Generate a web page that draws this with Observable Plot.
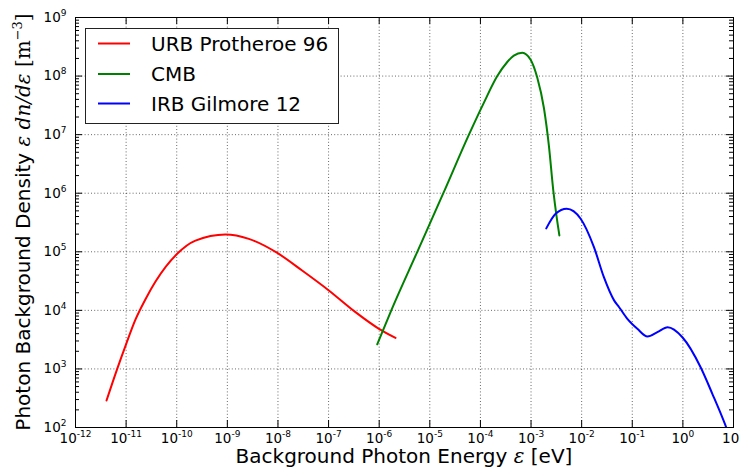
<!DOCTYPE html>
<html><head><meta charset="utf-8">
<script src="https://cdn.jsdelivr.net/npm/d3@7"></script>
<script src="https://cdn.jsdelivr.net/npm/@observablehq/plot@0.6"></script>
<style>body{margin:0;background:#fff;} #chart{width:740px;height:476px;}</style>
</head><body><div id="chart"></div>
<script>
// ---- data ----
const urbEnergy = [4.1e-12, 6.67e-12, 1.005e-11, 1.535e-11, 2.415e-11, 3.81e-11, 1.02e-10, 2.34e-10, 9.2e-10, 2.66e-9, 9.7e-9, 3.0e-8, 1.01e-7, 3.4e-7, 9.9e-7, 2.1e-6];
const urbDensity = [289, 1005, 2685, 7000, 15500, 31000, 92300, 155000, 197000, 166000, 95500, 47900, 21900, 9330, 4840, 3390];

const cmbEnergy = [9.16e-7, 1.734e-6, 5.66e-6, 1.85e-5, 5.93e-5, 1.148e-4, 2.153e-4, 3.39e-4, 4.57e-4, 6.71e-4, 9.82e-4, 1.33e-3, 1.80e-3, 2.26e-3, 2.75e-3, 3.21e-3, 3.63e-3];
const cmbDensity = [2630, 1.0e4, 1.0e5, 1.0e6, 1.0e7, 3.39e7, 1.0e8, 1.74e8, 2.24e8, 2.51e8, 1.905e8, 9.33e7, 2.82e7, 6.31e6, 1.12e6, 3.89e5, 1.9e5];

const irbEnergy = [2.0e-3, 3.06e-3, 5.06e-3, 9.55e-3, 1.75e-2, 2.75e-2, 4.37e-2, 5.5e-2, 8.0e-2, 0.126, 0.2, 0.313, 0.5, 0.977, 2.24, 3.80, 6.76, 7.6];
const irbDensity = [2.51e5, 4.45e5, 5.41e5, 3.66e5, 1.2e5, 3.68e4, 1.48e4, 1.13e4, 7160, 4840, 3570, 4240, 5150, 3480, 1070, 380, 115, 88];

const seriesNames = ["URB Protheroe 96", "CMB", "IRB Gilmore 12"];
const seriesColors = ["#ff0000", "#008000", "#0000ff"];

const xMajorTicks = [1e-12, 1e-11, 1e-10, 1e-9, 1e-8, 1e-7, 1e-6, 1e-5, 1e-4, 1e-3, 1e-2, 1e-1, 1e0, 1e1];
const yMajorTicks = [1e2, 1e3, 1e4, 1e5, 1e6, 1e7, 1e8, 1e9];

// ---- build ----
const W = 740, H = 476, mL = 75, mR = 7, mT = 17, mB = 49;
const innerH = H - mT - mB, innerW = W - mL - mR;

const toRows = (xs, ys, name) => xs.map((x, i) => ({energy: x, density: ys[i], series: name}));
const urb = toRows(urbEnergy, urbDensity, seriesNames[0]);
const cmb = toRows(cmbEnergy, cmbDensity, seriesNames[1]);
const irb = toRows(irbEnergy, irbDensity, seriesNames[2]);

const yMinorTicks = [];
for (const t of yMajorTicks.slice(0, -1)) for (let k = 2; k <= 9; k++) yMinorTicks.push(t * k);

const fmt = d => "10^" + Math.round(Math.log10(d));

const grid = {stroke: "#000", strokeOpacity: 0.75, strokeWidth: 0.8, strokeDasharray: "1,2.2"};

const chart = Plot.plot({
  width: W, height: H,
  marginLeft: mL, marginRight: mR, marginTop: mT, marginBottom: mB,
  style: {fontFamily: "'DejaVu Sans', sans-serif", background: "#fff", color: "#000"},
  x: {type: "log", domain: [1e-12, 10]},
  y: {type: "log", domain: [1e2, 1e9]},
  marks: [
    Plot.gridX(xMajorTicks, grid),
    Plot.gridY(yMajorTicks, grid),
    Plot.line(urb, {x: "energy", y: "density", stroke: seriesColors[0], strokeWidth: 2, curve: "monotone-x", clip: true}),
    Plot.line(cmb, {x: "energy", y: "density", stroke: seriesColors[1], strokeWidth: 2, curve: "monotone-x", clip: true}),
    Plot.line(irb, {x: "energy", y: "density", stroke: seriesColors[2], strokeWidth: 2, curve: "monotone-x", clip: true}),
    // inward ticks on all four sides
    Plot.tickX(xMajorTicks, {x: d => d, insetTop: innerH - 7, stroke: "#000"}),
    Plot.tickX(xMajorTicks, {x: d => d, insetBottom: innerH - 7, stroke: "#000"}),
    Plot.tickY(yMajorTicks, {y: d => d, insetRight: innerW - 7, stroke: "#000"}),
    Plot.tickY(yMajorTicks, {y: d => d, insetLeft: innerW - 7, stroke: "#000"}),
    Plot.tickY(yMinorTicks, {y: d => d, insetRight: innerW - 4, stroke: "#000"}),
    Plot.tickY(yMinorTicks, {y: d => d, insetLeft: innerW - 4, stroke: "#000"}),
    Plot.axisX(xMajorTicks, {tickSize: 0, tickPadding: 6, tickFormat: fmt, fontSize: 13.5, label: null}),
    Plot.axisY(yMajorTicks, {tickSize: 0, tickPadding: 9, tickFormat: fmt, fontSize: 13.5, label: null}),
    Plot.frame({stroke: "#000", strokeWidth: 1})
  ]
});

document.getElementById("chart").appendChild(chart);

// superscript exponents in tick labels
const svg = d3.select(chart.tagName.toLowerCase() === "svg" ? chart : chart.querySelector("svg"));
svg.selectAll('g[aria-label="x-axis tick label"] text, g[aria-label="y-axis tick label"] text').each(function() {
  const t = this.textContent;
  if (!t.includes("^")) return;
  const [base, exp] = t.split("^");
  const el = d3.select(this);
  el.text("");
  el.append("tspan").text(base);
  el.append("tspan").attr("dy", -6).attr("font-size", "9px").text(exp);
});

// axis labels
const xl = svg.append("text").attr("x", mL + innerW / 2).attr("y", 463)
  .attr("text-anchor", "middle").attr("font-size", 20).attr("fill", "#000");
xl.append("tspan").text("Background Photon Energy ");
xl.append("tspan").attr("font-family", "'DejaVu Serif', serif").attr("font-style", "italic").text("\u03b5");
xl.append("tspan").text(" [eV]");

const yl = svg.append("text").attr("transform", `translate(30,${mT + innerH / 2}) rotate(-90)`)
  .attr("text-anchor", "middle").attr("font-size", 20).attr("fill", "#000");
yl.append("tspan").text("Photon Background Density ");
yl.append("tspan").attr("font-family", "'DejaVu Serif', serif").attr("font-style", "italic").text("\u03b5 dn/d\u03b5");
yl.append("tspan").attr("font-family", "'DejaVu Serif', serif").text(" [m");
yl.append("tspan").attr("font-family", "'DejaVu Serif', serif").attr("font-size", 13).attr("dy", "-0.6em").text("\u22123");
yl.append("tspan").attr("font-family", "'DejaVu Serif', serif").attr("dy", "0.4em").text("]");

// legend (inside the plot, upper left)
const lg = svg.append("g");
lg.append("rect").attr("x", 85.5).attr("y", 28.5).attr("width", 253).attr("height", 95)
  .attr("fill", "#fff").attr("stroke", "#222").attr("stroke-width", 1);
const rows = [43.5, 74, 103.5];
seriesNames.forEach((name, i) => {
  lg.append("line").attr("x1", 98).attr("x2", 130).attr("y1", rows[i]).attr("y2", rows[i])
    .attr("stroke", seriesColors[i]).attr("stroke-width", 2);
  lg.append("text").attr("x", 151).attr("y", rows[i] + 7.3).attr("text-anchor", "start")
    .attr("font-size", 20).attr("fill", "#000").text(name);
});
</script>
</body></html>
